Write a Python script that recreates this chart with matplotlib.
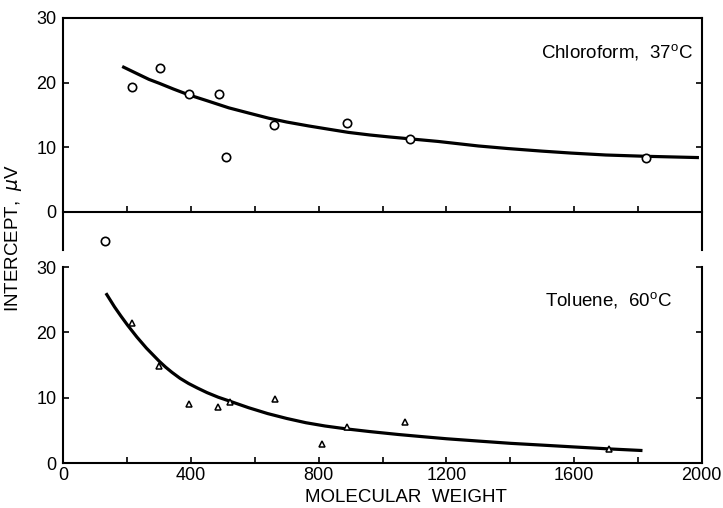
import matplotlib
matplotlib.use("Agg")
import matplotlib.pyplot as plt
from matplotlib.ticker import MultipleLocator

plt.rcParams['font.family'] = ['Liberation Sans', 'DejaVu Sans']
plt.rcParams['mathtext.fontset'] = 'custom'
plt.rcParams['mathtext.rm'] = 'Liberation Sans'

# chloroform, 37 C (circles)
chl_mw = [129, 215, 302, 393, 489, 509, 660, 890, 1086, 1825]
chl_int = [-4.5, 19.3, 22.2, 18.2, 18.2, 8.5, 13.5, 13.8, 11.3, 8.4]
# fitted curve
chl_fit_mw = [184, 230, 268, 300, 345, 393, 450, 518, 580, 643, 700, 768, 830, 893,
              960, 1020, 1086, 1174, 1300, 1393, 1500, 1591, 1700, 1825, 1992]
chl_fit_int = [22.5, 21.4, 20.5, 19.9, 19.0, 18.1, 17.2, 16.1, 15.3, 14.5, 13.9, 13.3, 12.8, 12.3,
               11.9, 11.6, 11.3, 10.9, 10.2, 9.8, 9.4, 9.1, 8.8, 8.6, 8.4]

# toluene, 60 C (triangles)
tol_mw = [214, 300, 392, 484, 521, 662, 809, 888, 1071, 1710]
tol_int = [21.4, 14.9, 9.05, 8.65, 9.4, 9.9, 2.9, 5.5, 6.35, 2.2]
tol_fit_mw = [133, 160, 180, 201, 230, 260, 280, 300, 320, 340, 365, 392, 420, 450, 485, 521, 580,
              640, 700, 760, 820, 888, 960, 1050, 1130, 1201, 1300, 1402, 1500, 1600, 1710, 1815]
tol_fit_int = [26.0, 23.9, 22.5, 21.1, 19.3, 17.6, 16.6, 15.6, 14.7, 13.9, 13.0, 12.2, 11.5, 10.8,
               10.1, 9.5, 8.5, 7.6, 6.85, 6.2, 5.7, 5.25, 4.85, 4.4, 4.05, 3.75, 3.4, 3.05, 2.78,
               2.5, 2.2, 1.95]

W, H = 723, 508
fig = plt.figure(figsize=(W / 100, H / 100), dpi=100)

ax1 = fig.add_axes([63.5 / W, 1 - 250 / H, 638 / W, 232 / H])
ax2 = fig.add_axes([63.5 / W, 1 - 463.3 / H, 638 / W, 196.3 / H])

for ax in (ax1, ax2):
    ax.set_xlim(0, 2000)
    for s in ax.spines.values():
        s.set_linewidth(1.5)
    ax.tick_params(which='both', direction='in', length=4, width=1.2,
                   labelsize=13, pad=5, right=True, labelright=False)

# top panel
ax1.set_ylim(-5.9, 30)
ax1.spines['bottom'].set_position(('data', 0))
ax1.set_yticks([0, 10, 20, 30])
ax1.xaxis.set_major_locator(MultipleLocator(200))
ax1.tick_params(axis='x', labelbottom=False)
ax1.plot(chl_fit_mw, chl_fit_int, color='black', lw=2.3, solid_capstyle='butt')
ax1.plot(chl_mw, chl_int, 'o', ms=6, mfc='white', mec='black', mew=1.2)
ax1.text(1975, 24.6, r'Chloroform,  37$^{\mathrm{o}}$C', ha='right', va='center', fontsize=13.5)

# bottom panel
ax2.set_ylim(0, 30)
ax2.spines['top'].set_visible(False)
ax2.set_yticks([0, 10, 20, 30])
ax2.xaxis.set_major_locator(MultipleLocator(400))
ax2.xaxis.set_minor_locator(MultipleLocator(200))
ax2.tick_params(axis='x', pad=3)
ax2.plot(tol_fit_mw, tol_fit_int, color='black', lw=2.3, solid_capstyle='butt')
ax2.plot(tol_mw, tol_int, '^', ms=5, mfc='white', mec='black', mew=1.1)
ax2.text(1508, 24.8, r'Toluene,  60$^{\mathrm{o}}$C', ha='left', va='center', fontsize=13.5)

fig.text(14 / W, 1 - 238 / H, r'INTERCEPT,  $\mu$V', rotation=90, ha='center', va='center', fontsize=13.5)
fig.text(406 / W, 1 - 498 / H, 'MOLECULAR  WEIGHT', ha='center', va='center', fontsize=13.5)

fig.savefig('out.png', dpi=100)
